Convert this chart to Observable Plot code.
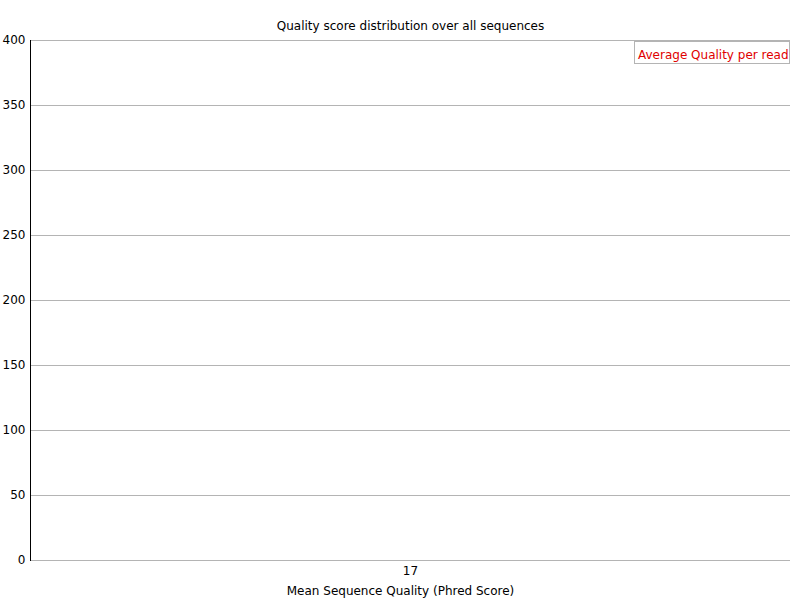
<!DOCTYPE html>
<html><head><meta charset="utf-8">
<script src="https://cdn.jsdelivr.net/npm/d3@7"></script>
<script src="https://cdn.jsdelivr.net/npm/@observablehq/plot@0.6"></script>
<style>
body{margin:0;background:#fff;font-family:"DejaVu Sans",sans-serif}
#wrap{position:relative;width:800px;height:600px}
#legend{position:absolute;left:634px;top:41px;width:151px;height:16px;border:1px solid #b4b4b4;background:#fff;color:#e00000;font-size:12px;line-height:16px;padding:5px 0 0 3px;box-sizing:content-box;white-space:nowrap}
</style>
</head><body>
<div id="wrap"><div id="legend">Average Quality per read</div></div>
<script>
const qualities = ["17"];
const counts = [400];
const yTicks = [0, 50, 100, 150, 200, 250, 300, 350, 400];
const titleText = "Quality score distribution over all sequences";
const xLabel = "Mean Sequence Quality (Phred Score)";
const seriesName = "Average Quality per read";

const data = qualities.map((q, i) => ({q, count: counts[i]}));

const chart = Plot.plot({
  width: 800,
  height: 600,
  marginTop: 40,
  marginBottom: 40,
  marginLeft: 30,
  marginRight: 10,
  style: {fontFamily: "DejaVu Sans, sans-serif", fontSize: "12px", color: "#000", background: "#fff"},
  x: {type: "band", domain: qualities, padding: 0},
  y: {domain: [0, 400]},
  marks: [
    Plot.ruleY(yTicks, {stroke: "#b4b4b4", strokeOpacity: 1}),
    Plot.frame({anchor: "left", stroke: "#000", strokeOpacity: 1}),
    Plot.line(data, {x: "q", y: "count", stroke: "#e00000", strokeWidth: 2, strokeLinecap: "butt"}),
    Plot.axisY({ticks: yTicks, tickSize: 0, tickPadding: 5, label: null, fontSize: 12}),
    Plot.axisX({tickSize: 0, tickPadding: 6, label: null, fontSize: 12}),
    Plot.text([titleText], {frameAnchor: "top", dy: -19, fontSize: 12, fill: "#000"}),
    Plot.text([xLabel], {frameAnchor: "bottom", dy: 34, dx: -10, fontSize: 12, fill: "#000"})
  ]
});
document.getElementById("wrap").prepend(chart);
</script>
</body></html>
